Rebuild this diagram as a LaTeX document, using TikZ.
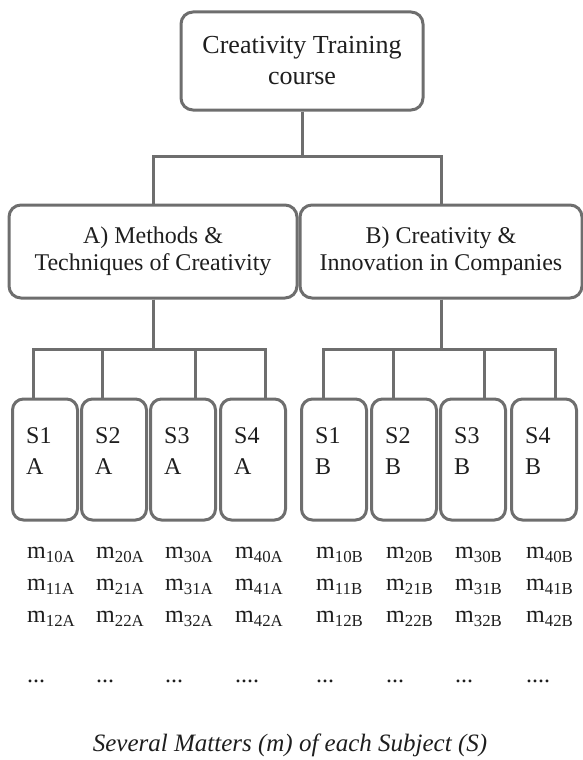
\documentclass[tikz,border=0pt]{standalone}
\usepackage{fontspec}
\setmainfont{Liberation Serif}
\usetikzlibrary{calc,positioning}
\definecolor{frame}{HTML}{6E6E6E}
\definecolor{ink}{HTML}{1E1E1E}
\newcommand{\mdots}[1]{\ifnum#1=4 ....\else ...\fi}

\begin{document}
\begin{tikzpicture}[x=1pt,y=-1pt,
  bigbox/.style={draw=frame,line width=3pt,rounded corners=12pt,align=center,text=ink,font=\fontsize{24}{27}\selectfont},
  subbox/.style={draw=frame,line width=3pt,rounded corners=11pt,minimum width=65pt,minimum height=121pt},
  link/.style={frame,line width=3pt},
  txt/.style={text=ink,inner sep=0pt,align=left,font=\fontsize{24}{31}\selectfont}]
  \useasboundingbox (0,0) rectangle (583,760);

  % Course and its two parts
  \node[bigbox,minimum width=242pt,minimum height=98pt,font=\fontsize{26}{31}\selectfont] (course) at (302,61) {Creativity Training\\course};
  \node[bigbox,minimum width=288pt,minimum height=93pt] (parta) at (153,251.5) {A) Methods \&\\Techniques of Creativity};
  \node[bigbox,minimum width=282pt,minimum height=93pt] (partb) at (441,251.5) {B) Creativity \&\\Innovation in Companies};
  \draw[link] (course.south) -- ++(0,45) -| (parta.north);
  \draw[link] (course.south) -- ++(0,45) -| (partb.north);

  % Subjects of part A
  \foreach \i/\x/\d in {1/45/-12,2/114/-12,3/183/12,4/253/12} {
    \node[subbox] (sa\i) at (\x,459.5) {};
    \node[txt,anchor=west] (ta\i) at ($(sa\i.west)+(15,-8)$) {S\i\\A};
    \draw[link] (parta.south) -- ++(0,50) -| ($(sa\i.north)+(\d,0)$);
    \node[txt,anchor=base west,font=\fontsize{24}{32}\selectfont] (ma\i) at ($(sa\i.south west)+(16,161)$)
      {m\textsubscript{\i0A}\\m\textsubscript{\i1A}\\m\textsubscript{\i2A}\\[28pt]\mdots{\i}};
  }

  % Subjects of part B
  \foreach \i/\x/\d in {1/334/-11,2/404/-11,3/473/11,4/544/11} {
    \node[subbox] (sb\i) at (\x,459.5) {};
    \node[txt,anchor=west] (tb\i) at ($(sb\i.west)+(15,-8)$) {S\i\\B};
    \draw[link] (partb.south) -- ++(0,50) -| ($(sb\i.north)+(\d,0)$);
    \node[txt,anchor=base west,font=\fontsize{24}{32}\selectfont] (mb\i) at ($(sb\i.south west)+(16,161)$)
      {m\textsubscript{\i0B}\\m\textsubscript{\i1B}\\m\textsubscript{\i2B}\\[28pt]\mdots{\i}};
  }

  \node[text=ink,font=\itshape\fontsize{25}{30}\selectfont] (note) at (290,745) {Several Matters (m) of each Subject (S)};
\end{tikzpicture}
\end{document}
